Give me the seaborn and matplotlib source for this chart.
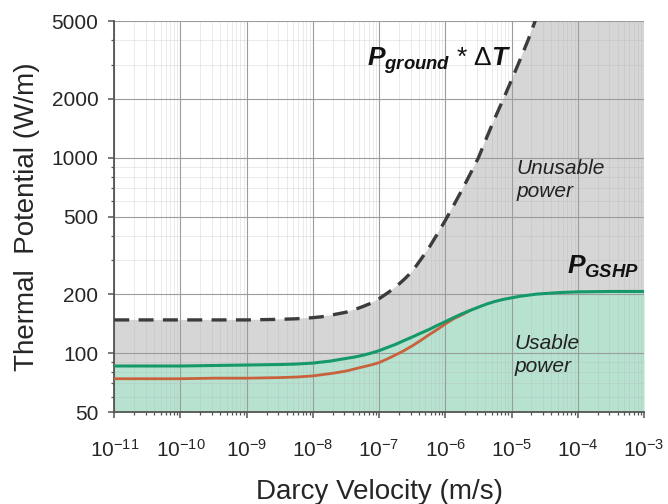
import numpy as np
import pandas as pd
import matplotlib
matplotlib.use("Agg")
import matplotlib.pyplot as plt
import seaborn as sns
from matplotlib.ticker import LogLocator, FixedLocator, FixedFormatter, NullFormatter, LogFormatterSciNotation

nan = np.nan
# ---- data ----
log_velocity = [-11, -10.5, -10, -9.5, -9, -8.5, -8.25,
                -8, -7.875, -7.75, -7.625, -7.5, -7.375, -7.25, -7.125,
                -7, -6.875, -6.75, -6.625, -6.5, -6.375, -6.25, -6.125,
                -6, -5.875, -5.75, -5.625, -5.5, -5.375, -5.25, -5.125,
                -5, -4.875, -4.75, -4.625, -4.5,
                -4.25, -4, -3.5, -3]
p_ground_dt = [148, 148, 148, 148, 148, 149, 150,
               152, 153.5, 156, 159, 162, 167, 173, 180,
               190, 203, 218, 238, 262, 300, 345, 405,
               478, 570, 683, 825, 1000, 1270, 1600, 1990,
               2500, 3150, 4000, 5200, nan,
               nan, nan, nan, nan]
p_gshp = [86, 86, 86, 86.5, 87, 87.5, 88,
          89, 90, 91, 92.5, 94, 95.5, 97.5, 100,
          103, 107, 111, 116, 121, 126.5, 132, 138.5,
          145, 152, 159, 165.5, 172, 178.5, 184, 188.5,
          192, 195.5, 198, 200.5, 202,
          204.5, 206, 207, 207]
p_other = [74, 74, 74, 74.5, 74.5, 75, 75.5,
           76.5, 77.5, 78.5, 79.7, 81, 83, 85, 87,
           89.5, 93.5, 98, 103, 109, 116, 124, 132,
           141, 150, 157, 165.5, nan, nan, nan, nan,
           nan, nan, nan, nan, nan,
           nan, nan, nan, nan]
y_ticks = [50, 100, 200, 500, 1000, 2000, 5000]
y_tick_labels = ["50", "100", "200", "500", "1000", "2000", "5000"]

velocity = 10.0 ** np.array(log_velocity)
df = pd.DataFrame({"v": velocity, "ground": p_ground_dt, "gshp": p_gshp, "other": p_other})

# ---- style ----
sns.set_theme(style="white")
plt.rcParams["font.family"] = ["Liberation Sans", "DejaVu Sans"]
plt.rcParams["mathtext.fontset"] = "custom"
plt.rcParams["mathtext.rm"] = "Liberation Sans"
plt.rcParams["mathtext.it"] = "Liberation Sans:italic:bold"
plt.rcParams["mathtext.bf"] = "Liberation Sans:bold"

fig = plt.figure(figsize=(6.68, 5.04), dpi=100)
ax = fig.add_axes([0.171, 0.1825, 0.793, 0.7755])
ax.set_xscale("log")
ax.set_yscale("log")
ax.set_xlim(1e-11, 1e-3)
ax.set_ylim(50, 5000)

gray_fill = "#d6d6d6"
green_fill = "#b6e2cf"
green_line = "#16996a"
orange_line = "#c8623c"
dash_col = "#3c3c3c"

upper = df["ground"].fillna(1e5).to_numpy()
ax.fill_between(df["v"], df["gshp"], upper, color=gray_fill, lw=0, zorder=1)
ax.fill_between(df["v"], 1, df["gshp"], color=green_fill, lw=0, zorder=1)

sns.lineplot(data=df, x="v", y="other", ax=ax, color=orange_line, lw=2.0, zorder=3)
sns.lineplot(data=df, x="v", y="gshp", ax=ax, color=green_line, lw=2.2, zorder=4)
sns.lineplot(data=df, x="v", y="ground", ax=ax, color=dash_col, lw=2.4, zorder=4)
ax.lines[-1].set_dashes([4.5, 2.8])

# ---- grid & ticks ----
ax.set_axisbelow("line")
ax.xaxis.set_major_locator(LogLocator(base=10, numticks=20))
ax.xaxis.set_minor_locator(LogLocator(base=10, subs=np.arange(2, 10), numticks=200))
ax.xaxis.set_major_formatter(LogFormatterSciNotation())
ax.xaxis.set_minor_formatter(NullFormatter())
ax.yaxis.set_major_locator(FixedLocator(y_ticks))
ax.yaxis.set_major_formatter(FixedFormatter(y_tick_labels))
ax.yaxis.set_minor_locator(LogLocator(base=10, subs=np.arange(2, 10), numticks=200))
ax.yaxis.set_minor_formatter(NullFormatter())

ax.grid(which="major", color="#9c9c9c", lw=0.8)
ax.grid(which="minor", color="#b0b0b0", lw=0.5, alpha=0.35)

for s in ["top", "right"]:
    ax.spines[s].set_visible(False)
for s in ["left", "bottom"]:
    ax.spines[s].set_color("#555555")
    ax.spines[s].set_linewidth(1.3)

ax.tick_params(which="major", direction="out", length=4.5, width=1.1, color="#555555",
               labelsize=15, labelcolor="#262626", bottom=True, left=True)
ax.tick_params(which="minor", direction="out", length=2.5, width=0.9, color="#555555",
               bottom=True, left=True)
ax.tick_params(axis="x", which="major", pad=15)
ax.tick_params(axis="y", which="major", pad=7)

ax.set_xlabel("Darcy Velocity (m/s)", fontsize=20, color="#262626", labelpad=13)
ax.set_ylabel("Thermal  Potential (W/m)", fontsize=20, color="#262626", labelpad=8)

# ---- annotations ----
ax.text(6.6e-8, 3150, r"$P_{ground}$" + " * " + r"$\Delta T$", fontsize=19,
        ha="left", va="center", color="#111111")
ax.text(6.9e-5, 275, r"$P_{GSHP}$", fontsize=19, ha="left", va="center", color="#111111")
ax.text(1.2e-5, 770, "Unusable\npower", fontsize=15, style="italic", ha="left",
        va="center", color="#222222", linespacing=1.25)
ax.text(1.1e-5, 98, "Usable\npower", fontsize=15, style="italic", ha="left",
        va="center", color="#222222", linespacing=1.25)

fig.savefig("out.png", dpi=100, facecolor="white")
